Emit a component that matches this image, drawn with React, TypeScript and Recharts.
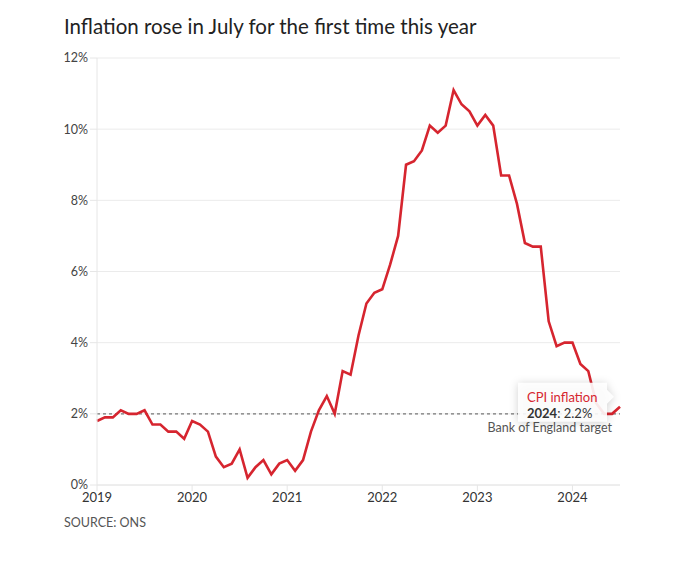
import React from 'react';
import { LineChart, Line, XAxis, YAxis, CartesianGrid, ReferenceLine, ReferenceDot } from 'recharts';

const startYear = 2019;
const yearTicks = [2019, 2020, 2021, 2022, 2023, 2024];
const yTicks = [0, 2, 4, 6, 8, 10, 12];
const cpi2019 = [1.8, 1.9, 1.9, 2.1, 2.0, 2.0, 2.1, 1.7, 1.7, 1.5, 1.5, 1.3];
const cpi2020 = [1.8, 1.7, 1.5, 0.8, 0.5, 0.6, 1.0, 0.2, 0.5, 0.7, 0.3, 0.6];
const cpi2021 = [0.7, 0.4, 0.7, 1.5, 2.1, 2.5, 2.0, 3.2, 3.1, 4.2, 5.1, 5.4];
const cpi2022 = [5.5, 6.2, 7.0, 9.0, 9.1, 9.4, 10.1, 9.9, 10.1, 11.1, 10.7, 10.5];
const cpi2023 = [10.1, 10.4, 10.1, 8.7, 8.7, 7.9, 6.8, 6.7, 6.7, 4.6, 3.9, 4.0];
const cpi2024 = [4.0, 3.4, 3.2, 2.3, 2.0, 2.0, 2.2];
const target = 2;

const allValues = [...cpi2019, ...cpi2020, ...cpi2021, ...cpi2022, ...cpi2023, ...cpi2024];
const data = allValues.map((v, i) => ({ t: startYear + i / 12, cpi: v }));
const last = data[data.length - 1];

const FONT = 'Lato, "Open Sans", sans-serif';
const RED = '#d6252f';

const TooltipShape = (props: any) => {
  const { cx, cy } = props;
  if (cx == null || cy == null) return null;
  const l = cx - 102, r = cx - 13, t = cy - 24, b = cy + 15;
  const path = `M${l},${t} H${r} V${cy - 17} L${cx - 6},${cy - 10} L${r},${cy - 3} V${b} H${l} Z`;
  return (
    <g>
      <path d={path} fill="#fff" fillOpacity={0.9} style={{ filter: 'drop-shadow(0px 1px 4px rgba(0,0,0,0.2))' }} />
      <text x={l + 9} y={cy - 5} fontSize={13} fill={RED} fontFamily={FONT}>CPI inflation</text>
      <text x={l + 9} y={cy + 11} fontSize={13} fill="#333" fontFamily={FONT}>
        <tspan fontWeight={700}>{String(Math.floor(last.t))}</tspan>
        <tspan>: {last.cpi.toFixed(1)}%</tspan>
      </text>
    </g>
  );
};

const TargetLabel = (props: any) => {
  const vb = props.viewBox || {};
  return (
    <text x={vb.x + vb.width - 8} y={vb.y + 18} textAnchor="end" fontSize={12.5} fill="#555" fontFamily={FONT}>
      Bank of England target
    </text>
  );
};

export default function App() {
  return (
    <div style={{ position: 'absolute', left: 0, top: 0, width: 700, height: 576, background: '#fff', fontFamily: FONT }}>
      <div style={{ position: 'absolute', left: 64, top: 14, fontSize: 20.5, color: '#222', whiteSpace: 'nowrap' }}>
        Inflation rose in July for the first time this year
      </div>
      <LineChart width={700} height={576} data={data} margin={{ top: 58, right: 80, bottom: 61, left: 57 }}>
        <CartesianGrid vertical={false} stroke="#ebebeb" />
        <XAxis
          dataKey="t"
          type="number"
          domain={[startYear, startYear + 66 / 12]}
          ticks={yearTicks}
          tickFormatter={(v: number) => String(v)}
          height={30}
          tickSize={6}
          axisLine={{ stroke: '#e6e6e6' }}
          tickLine={{ stroke: '#e6e6e6' }}
          tick={{ fill: '#333', fontSize: 13, fontFamily: FONT }}
        />
        <YAxis
          type="number"
          domain={[0, 12]}
          ticks={yTicks}
          tickFormatter={(v: number) => `${v}%`}
          width={40}
          tickSize={7}
          axisLine={{ stroke: '#e6e6e6' }}
          tickLine={{ stroke: '#e6e6e6' }}
          tick={{ fill: '#444', fontSize: 12.5, fontFamily: FONT }}
        />
        <ReferenceLine y={target} stroke="#777" strokeDasharray="3 3" strokeWidth={1.2} label={<TargetLabel />} />
        <Line type="linear" dataKey="cpi" stroke={RED} strokeWidth={2.6} dot={false} isAnimationActive={false} />
        <ReferenceDot x={last.t} y={last.cpi} shape={<TooltipShape />} />
      </LineChart>
      <div style={{ position: 'absolute', left: 64, top: 515, fontSize: 12.5, color: '#555', whiteSpace: 'nowrap' }}>
        SOURCE: ONS
      </div>
    </div>
  );
}
